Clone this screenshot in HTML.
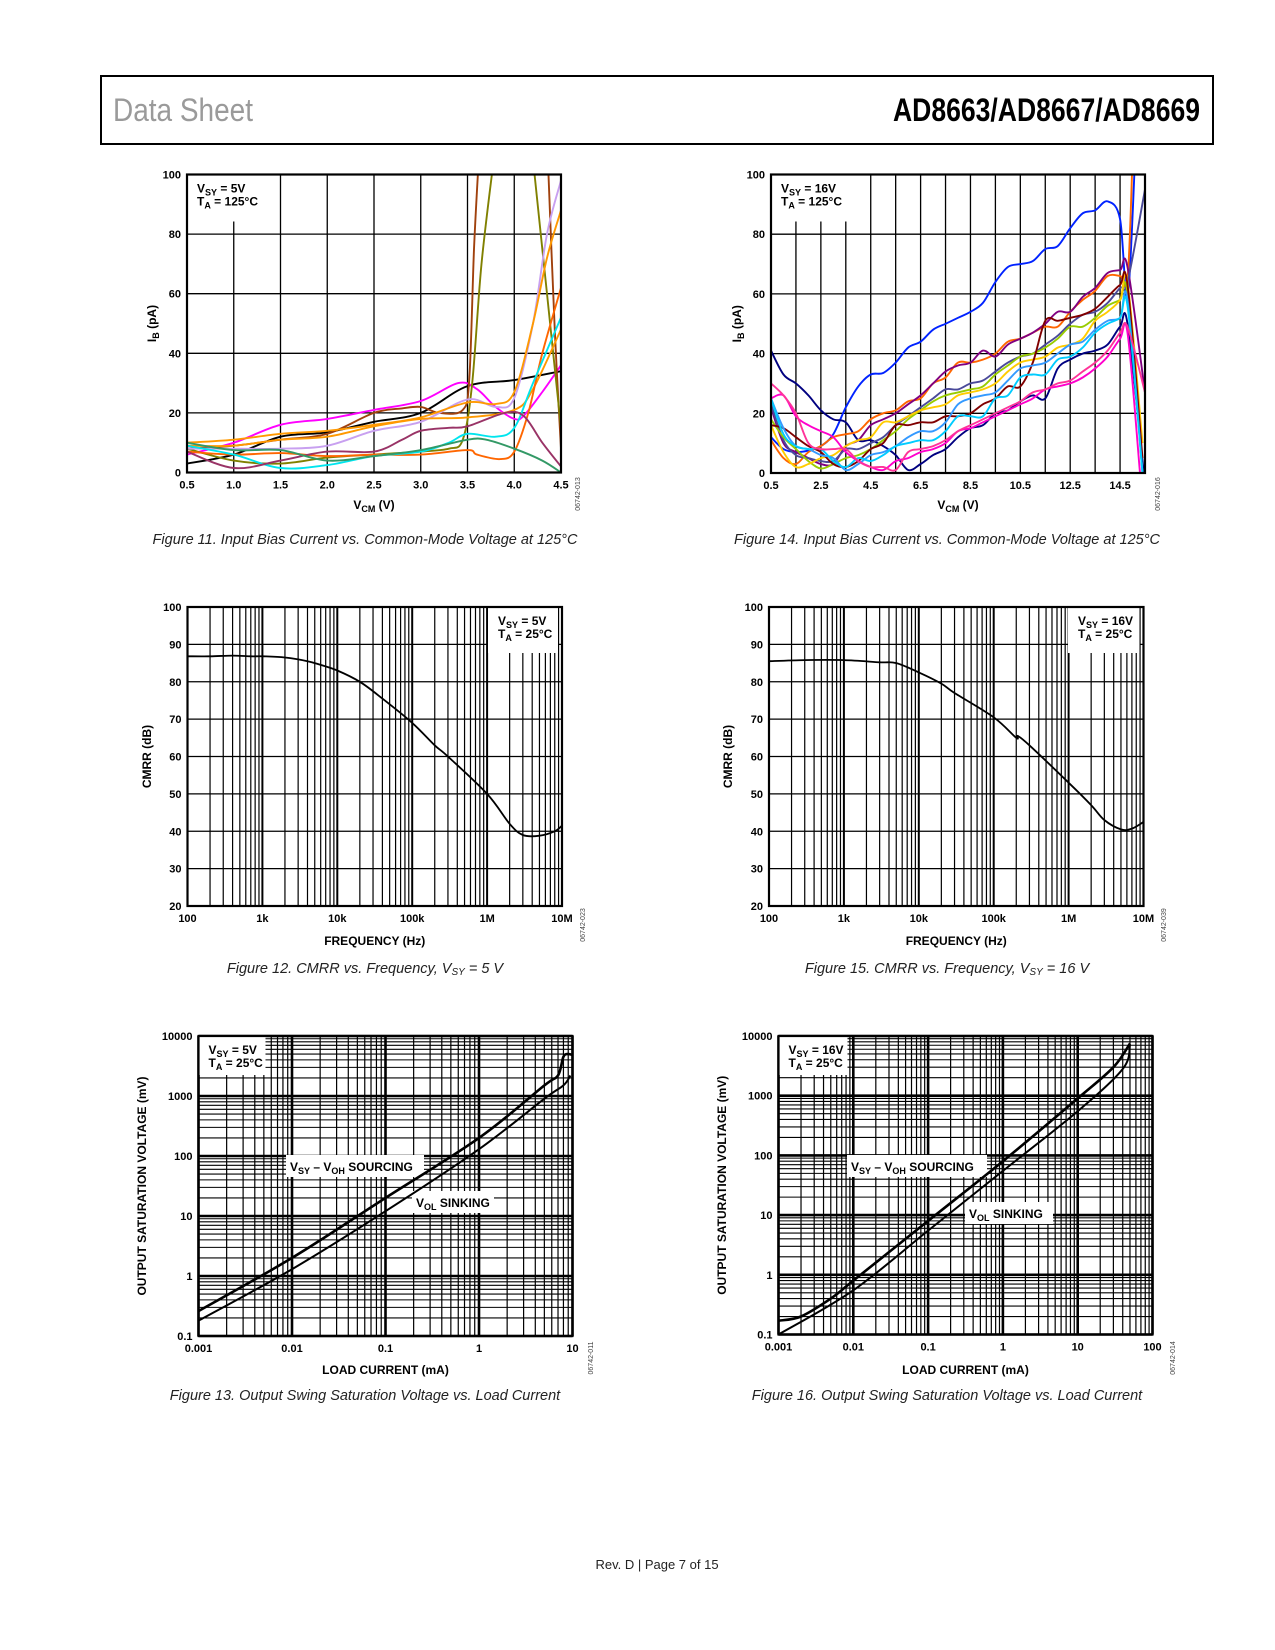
<!DOCTYPE html>
<html><head><meta charset="utf-8">
<style>
html,body{margin:0;padding:0;background:#fff;}
svg{display:block;font-family:"Liberation Sans",sans-serif;}
.tk{font-size:11px;font-weight:bold;fill:#000;}
.tt{font-size:12px;font-weight:bold;fill:#000;}
.cap{font-size:14.5px;font-style:italic;fill:#222;}
.wm{font-size:7px;fill:#444;}
</style></head>
<body>
<svg id="page" width="1275" height="1650" viewBox="0 0 1275 1650" xmlns="http://www.w3.org/2000/svg">
<rect x="101" y="76" width="1112" height="68" fill="none" stroke="#000" stroke-width="2"/>
<text x="113" y="121" font-size="32" fill="#9a9a9a" textLength="140" lengthAdjust="spacingAndGlyphs">Data Sheet</text>
<text x="1200" y="121" font-size="32" font-weight="bold" text-anchor="end" textLength="307" lengthAdjust="spacingAndGlyphs">AD8663/AD8667/AD8669</text>
<text x="657" y="1569" font-size="13" text-anchor="middle" fill="#222">Rev. D | Page 7 of 15</text>
<text class="cap" x="365" y="544" text-anchor="middle">Figure 11. Input Bias Current vs. Common-Mode Voltage at 125°C</text>
<text class="cap" x="947" y="544" text-anchor="middle">Figure 14. Input Bias Current vs. Common-Mode Voltage at 125°C</text>
<text class="cap" x="365" y="973" text-anchor="middle">Figure 12. CMRR vs. Frequency, V<tspan font-size="10" dy="2">SY</tspan><tspan dy="-2"> = 5 V</tspan></text>
<text class="cap" x="947" y="973" text-anchor="middle">Figure 15. CMRR vs. Frequency, V<tspan font-size="10" dy="2">SY</tspan><tspan dy="-2"> = 16 V</tspan></text>
<text class="cap" x="365" y="1400" text-anchor="middle">Figure 13. Output Swing Saturation Voltage vs. Load Current</text>
<text class="cap" x="947" y="1400" text-anchor="middle">Figure 16. Output Swing Saturation Voltage vs. Load Current</text>
</svg>
<script>
// ---------- Figure 11 data (VSY=5V, 125C) ----------
const f11Colors = ['#000000','#ff00ff','#a0410d','#a0410d','#808000','#808000','#c8a0f0','#ff9900','#ff9900','#ff6600','#00e5ee','#993366','#339966'];
const f11_black_x = [0.5,1.0,1.5,2.0,2.5,3.0,3.5,4.0,4.5];
const f11_black_y = [3,6,12,13.5,17,20,29,31,34];
const f11_magenta_x = [0.5,1.0,1.5,2.0,2.5,3.0,3.4,3.6,3.8,4.0,4.1,4.3,4.5];
const f11_magenta_y = [6,10,16,18,21,24,30,28,22,18,19,27,36];
const f11_brown_x = [0.5,1.0,1.5,2.0,2.5,2.8,3.0,3.2,3.45,3.52,3.57,3.62];
const f11_brown_y = [8,9,11,13,20,21.5,22,20,21,32,75,105];
const f11_brown2_x = [4.36,4.43,4.5];
const f11_brown2_y = [105,50,8];
const f11_olive_x = [0.5,1.0,1.5,2.0,2.5,3.0,3.3,3.45,3.55,3.65,3.78];
const f11_olive_y = [8,4,3,5,6,7,8,11,30,70,105];
const f11_olive2_x = [4.2,4.35,4.5];
const f11_olive2_y = [105,60,15];
const f11_lav_x = [0.5,1.0,1.5,2.0,2.5,3.0,3.5,3.8,4.0,4.2,4.35,4.5];
const f11_lav_y = [8,8,8,9,14,17,24.5,22,25,50,80,98];
const f11_orange_x = [0.5,1.0,1.5,2.0,2.5,3.0,3.5,3.8,4.0,4.2,4.35,4.5];
const f11_orange_y = [10,11,13,14,16,18.5,23.5,23,27,50,72,88];
const f11_orange2_x = [0.5,1.0,1.5,2.0,2.5,3.0,3.5,4.0,4.2,4.5];
const f11_orange2_y = [9,9,11,12,15.5,18,18.5,21,28,48];
const f11_dorange_x = [0.5,1.0,1.5,2.0,2.5,3.0,3.5,3.6,3.85,4.0,4.15,4.3,4.5];
const f11_dorange_y = [7,6,6.5,5.5,6,6,7.5,6,4.5,7,20,40,62];
const f11_cyan_x = [0.5,1.0,1.5,2.0,2.5,3.0,3.3,3.5,3.8,4.0,4.2,4.5];
const f11_cyan_y = [9,6,1.5,2.5,5.5,7,10,13,12,15,30,52];
const f11_plum_x = [0.5,1.0,1.5,2.0,2.5,2.8,3.0,3.3,3.5,3.9,4.1,4.3,4.5];
const f11_plum_y = [7,1.5,4,7,7,11,14,15,15.5,20,19,10,2];
const f11_teal_x = [0.5,1.0,1.5,2.0,2.5,3.0,3.5,3.7,4.0,4.3,4.5];
const f11_teal_y = [10,7.5,7.5,4,5.5,7.5,11,11,8,4,0];
const f11XS = [f11_black_x,f11_magenta_x,f11_brown_x,f11_brown2_x,f11_olive_x,f11_olive2_x,f11_lav_x,f11_orange_x,f11_orange2_x,f11_dorange_x,f11_cyan_x,f11_plum_x,f11_teal_x];
const f11YS = [f11_black_y,f11_magenta_y,f11_brown_y,f11_brown2_y,f11_olive_y,f11_olive2_y,f11_lav_y,f11_orange_y,f11_orange2_y,f11_dorange_y,f11_cyan_y,f11_plum_y,f11_teal_y];
const f11XTicks = [0.5,1.0,1.5,2.0,2.5,3.0,3.5,4.0,4.5];
const ibYTicks = [0,20,40,60,80,100];

// ---------- Figure 14 data (VSY=16V, 125C) ----------
const f14X = [0.5,1,1.5,2,2.5,3,3.5,4,4.5,5,5.5,6,6.5,7,7.5,8,8.5,9,9.5,10,10.5,11,11.5,12,12.5,13,13.5,14,14.5,14.8];
const f14Colors = ['#0022ff','#000080','#ff6600','#800080','#4a4a9a','#99cc00','#ffcc00','#800000','#3399ff','#00ccff','#ff00cc','#ff3399'];
const f14_blue = [12,8,7,7.5,9,13,22,29,33,33.5,37,42,44,48,50,52,54,57,64,69,70,71,75,76,82,87,88,91,85,58];
const f14_navy = [41,33,30,26,21,18,17,11,11,9,6,1,3,6,8,12,15,16,20,21,24,26,25,35,38,40,41,43,49,50];
const f14_orange = [11,5,3,7,9,12,13,14,18,20,21,24,25,30,32,37,37,38,40,44,45,47,49,49,54,58,61,66,66,65];
const f14_purple = [22,10,7,5,3,3,9,11,16,18,20,23,26,30,34,36,37,41,39,43,45,47,50,54,54,59,62,67,68,69];
const f14_slate = [23,11,6,5,4,4,8,8,10,12,16,19,22,25,28,28,30,31,34,37,39,40,43,46,50,53,54,57,62,64];
const f14_green = [18,12,8,4,1.5,3,5,6,8,11,14,18,21,24,26,27,28,29,33,36,39,40,42,45,49,49,52,56,58,60];
const f14_yellow = [16,7,2,3,5,6,9,11,12,17,17,19,21,22,23,26,27,28,30,34,37,38,39,42,43,45,51,54,58,64];
const f14_maroon = [16,15,12,9,7,3,2,4,8,10,16,16,17,17,19,19,20,23,25,29,29,37,51,51,52,53,55,59,63,63];
const f14_cornflower = [25,15,9,8,6,5,1,3,6,7,9,12,14,14,17,23,25,26,27,31,35,36,37,40,43,44,48,51,52,58];
const f14_cyan = [25,13,9,8,8,4,2,5,4,6,9,10,11,11,14,19,19,19,25,26,32,33,33,38,39,42,47,50,52,56];
const f14_magenta = [25,26,19,16,14,12,7,4,2,1,4,5,7,8,10,14,15,17,19,21,23,25,28,29,30,32,35,39,45,47];
const f14_pink = [30,26,20,10,8,8,8,4,2,2,1,7,8,9,11,14,16,18,20,22,24,27,28,30,31,34,37,41,47,49];
const f14YS = [f14_blue,f14_navy,f14_orange,f14_purple,f14_slate,f14_green,f14_yellow,f14_maroon,f14_cornflower,f14_cyan,f14_magenta,f14_pink];
const f14EndX = [15.1,15.45,15.0,15.5,15.5,15.4,15.4,15.4,15.4,15.4,15.3,15.5];
const f14EndY = [105,0,105,27,95,0,10,5,0,0,0,27];
const f14XTicks = [0.5,2.5,4.5,6.5,8.5,10.5,12.5,14.5];

// ---------- Figure 12 / 15 data (CMRR) ----------
const f12Freq = [100,200,400,700,1000,2000,4000,6000,10000,20000,40000,100000,200000,300000,1000000,2000000,3000000,5000000,8000000,10000000];
const f12Cmrr = [86.8,86.8,87,86.8,86.8,86.5,85.5,84.5,83,80,75.5,69,63,60,50,42,39,38.8,40,41.5];
const f15Freq = [100,300,1000,3000,5000,10000,20000,30000,100000,200000,210000,300000,1000000,2000000,3000000,5000000,7000000,10000000];
const f15Cmrr = [85.5,85.8,85.8,85.2,85,82.5,79.5,77,70.5,65,65.5,63,53,47,43,40.5,40.7,42.5];
const cmrrXTicks = [100,1000,10000,100000,1000000,10000000];
const cmrrXLabels = ['100','1k','10k','100k','1M','10M'];
const cmrrYTicks = [20,30,40,50,60,70,80,90,100];

// ---------- Figure 13 / 16 data (saturation) ----------
const f13SrcI = [0.001,0.01,0.1,1,5,7,8,9,10];
const f13SrcV = [0.26,2,20,200,1500,2200,4500,5000,4800];
const f13SnkI = [0.001,0.01,0.1,1,5,8,9.5];
const f13SnkV = [0.18,1.3,12,130,900,1500,2200];
const f16SrcI = [0.001,0.002,0.005,0.01,0.1,1,10,30,50];
const f16SrcV = [0.17,0.2,0.4,0.8,8,80,900,3000,7500];
const f16SnkI = [0.001,0.01,0.1,1,10,40,50];
const f16SnkV = [0.1,0.55,5.5,55,550,2800,7000];
const f13XTicks = [0.001,0.01,0.1,1,10];
const f13XLabels = ['0.001','0.01','0.1','1','10'];
const f16XTicks = [0.001,0.01,0.1,1,10,100];
const f16XLabels = ['0.001','0.01','0.1','1','10','100'];
const satYTicks = [0.1,1,10,100,1000,10000];
const satYLabels = ['0.1','1','10','100','1000','10000'];

const NS = 'http://www.w3.org/2000/svg';
const page = document.getElementById('page');
function mk(tag, attrs, parent){
  const e = document.createElementNS(NS, tag);
  for (const k in attrs) e.setAttribute(k, attrs[k]);
  (parent || page).appendChild(e);
  return e;
}
function lin(d0,d1,r0,r1){ return v => r0 + (v-d0)/(d1-d0)*(r1-r0); }
function lg(d0,d1,r0,r1){ const a=Math.log10(d0), b=Math.log10(d1); return v => r0 + (Math.log10(v)-a)/(b-a)*(r1-r0); }
function smooth(p){
  let d = 'M' + p[0][0].toFixed(1) + ',' + p[0][1].toFixed(1);
  for (let i=0;i<p.length-1;i++){
    const p0=p[i-1]||p[i], p1=p[i], p2=p[i+1], p3=p[i+2]||p[i+1];
    const c1x=p1[0]+(p2[0]-p0[0])/6, c1y=p1[1]+(p2[1]-p0[1])/6;
    const c2x=p2[0]-(p3[0]-p1[0])/6, c2y=p2[1]-(p3[1]-p1[1])/6;
    d += ' C'+c1x.toFixed(1)+','+c1y.toFixed(1)+' '+c2x.toFixed(1)+','+c2y.toFixed(1)+' '+p2[0].toFixed(1)+','+p2[1].toFixed(1);
  }
  return d;
}
let clipN = 0;
function chart(c){
  const g = mk('g', {});
  
  
  const id = 'clip' + (clipN++);
  const cp = mk('clipPath', {id:id}, g);
  mk('rect', {x:c.L, y:c.T, width:c.R-c.L, height:c.B-c.T}, cp);
  const grid = mk('g', {}, g);
  
  
  c.vGrid.forEach(v => {
    const ln = mk('line', {x1:c.x(v[0]), x2:c.x(v[0]), y1:c.T, y2:c.B, stroke:'#000', 'stroke-width':v[1]}, grid);
    
    
  });
  c.hGrid.forEach(v => {
    const ln = mk('line', {x1:c.L, x2:c.R, y1:c.y(v[0]), y2:c.y(v[0]), stroke:'#000', 'stroke-width':v[1]}, grid);
    
    
  });
  // legend box
  const lb = mk('rect', {x:c.L+1, y:c.T+1, width:c.leg[2], height:c.leg[3], fill:'#fff'}, g);
  if (c.leg[0] !== null) { lb.setAttribute('x', c.leg[0]); }
  
  
  const lx = (c.leg[0] !== null ? c.leg[0] : c.L) + 10;
  const t1 = mk('text', {x:lx, y:c.T+18, class:'tt'}, g);
  
  
  t1.innerHTML = 'V<tspan font-size="9" dy="3">SY</tspan><tspan dy="-3"> = ' + c.vsy + '</tspan>';
  const t2 = mk('text', {x:lx, y:c.T+31, class:'tt'}, g);
  
  
  t2.innerHTML = 'T<tspan font-size="9" dy="3">A</tspan><tspan dy="-3"> = ' + c.ta + '°C</tspan>';
  // extra label boxes
  (c.labels || []).forEach(l => {
    const r = mk('rect', {x:l.x, y:l.y, width:l.w, height:l.h, fill:'#fff'}, g);
    
    
    const t = mk('text', {x:l.x+4, y:l.y+l.h-6, class:'tt'}, g);
    
    
    t.innerHTML = l.html;
  });
  // series
  const sg = mk('g', {'clip-path':'url(#'+id+')'}, g);
  
  
  c.series.forEach(s => {
    const pts = s.xs.map((v,i) => [c.x(v), c.y(s.ys[i])]);
    const p = mk('path', {d:smooth(pts), fill:'none', stroke:s.color, 'stroke-width':s.w, 'stroke-linejoin':'round'}, sg);
    
    
  });
  // frame
  const fr = mk('rect', {x:c.L, y:c.T, width:c.R-c.L, height:c.B-c.T, fill:'none', stroke:'#000', 'stroke-width':2.2}, g);
  
  
  // ticks
  c.xTicks.forEach((v,i) => {
    const t = mk('text', {x:c.x(v), y:c.B+c.xLabOff, class:'tk', 'text-anchor':'middle'}, g);
    
    
    t.textContent = c.xLabels[i];
  });
  c.yTicks.forEach((v,i) => {
    const t = mk('text', {x:c.L-6, y:c.y(v)+4, class:'tk', 'text-anchor':'end'}, g);
    
    
    t.textContent = c.yLabels[i];
  });
  const xt = mk('text', {x:(c.L+c.R)/2, y:c.xTitleY, class:'tt', 'text-anchor':'middle'}, g);
  
  
  xt.innerHTML = c.xTitle;
  const yt = mk('text', {x:0, y:0, class:'tt', 'text-anchor':'middle', transform:'translate('+c.yTitleX+','+((c.T+c.B)/2)+') rotate(-90)'}, g);
  
  
  yt.innerHTML = c.yTitle;
  const wm = mk('text', {x:0, y:0, class:'wm', 'text-anchor':'middle', transform:'translate('+c.wm[0]+','+c.wm[1]+') rotate(-90)'}, g);
  
  
  wm.textContent = c.wm[2];
}
function logGrid(d0, d1, majorW, minorW){
  const out = [];
  for (let e = Math.round(Math.log10(d0)); e < Math.round(Math.log10(d1)); e++){
    for (let k=1;k<=9;k++) out.push([k*Math.pow(10,e), k===1?majorW:minorW]);
  }
  out.push([d1, majorW]);
  return out;
}

// Figure 11
(function(){
  const c = {name:'figure-11-chart', L:187, R:561, T:174.5, B:472.5};
  c.x = lin(0.5,4.5,c.L,c.R); c.y = lin(0,100,c.B,c.T);
  c.vGrid = f11XTicks.map(v=>[v,1.3]); c.hGrid = ibYTicks.map(v=>[v,1.3]);
  c.leg = [null,null,73,46]; c.vsy='5V'; c.ta='125';
  c.series = f11XS.map((xs,i)=>({xs:xs, ys:f11YS[i], color:f11Colors[i], w:1.9, name:'ib-curve-'+(i+1)}));
  c.xTicks = f11XTicks; c.xLabels = f11XTicks.map(v=>v.toFixed(1)); c.xLabOff = 16;
  c.yTicks = ibYTicks; c.yLabels = ibYTicks.map(String);
  c.xTitle = 'V<tspan font-size="9" dy="3">CM</tspan><tspan dy="-3"> (V)</tspan>'; c.xTitleY = 509;
  c.yTitle = 'I<tspan font-size="9" dy="3">B</tspan><tspan dy="-3"> (pA)</tspan>'; c.yTitleX = 156;
  c.wm = [580,494,'06742-013'];
  chart(c);
})();
// Figure 14
(function(){
  const c = {name:'figure-14-chart', L:771, R:1145, T:174.5, B:473};
  c.x = lin(0.5,15.5,c.L,c.R); c.y = lin(0,100,c.B,c.T);
  const vg = []; for (let v=1.5; v<15.5; v+=1) vg.push([v,1.3]);
  c.vGrid = vg; c.hGrid = ibYTicks.map(v=>[v,1.3]);
  c.leg = [null,null,76,46]; c.vsy='16V'; c.ta='125';
  c.series = f14YS.map((ys,i)=>({xs:f14X.concat([f14EndX[i]]), ys:ys.concat([f14EndY[i]]), color:f14Colors[i], w:1.9, name:'ib-curve-'+(i+1)}));
  c.xTicks = f14XTicks; c.xLabels = f14XTicks.map(v=>v.toFixed(1)); c.xLabOff = 16;
  c.yTicks = ibYTicks; c.yLabels = ibYTicks.map(String);
  c.xTitle = 'V<tspan font-size="9" dy="3">CM</tspan><tspan dy="-3"> (V)</tspan>'; c.xTitleY = 509;
  c.yTitle = 'I<tspan font-size="9" dy="3">B</tspan><tspan dy="-3"> (pA)</tspan>'; c.yTitleX = 741;
  c.wm = [1160,494,'06742-016'];
  chart(c);
})();
// Figure 12 & 15
[[187.5,562,'figure-12-chart','5V',f12Freq,f12Cmrr,151,[585,925,'06742-023'],488],
 [769,1143.5,'figure-15-chart','16V',f15Freq,f15Cmrr,732,[1166,925,'06742-039'],1068]].forEach(a=>{
  const c = {name:a[2], L:a[0], R:a[1], T:607, B:906};
  c.x = lg(100,1e7,c.L,c.R); c.y = lin(20,100,c.B,c.T);
  c.vGrid = logGrid(100,1e7,2,1.2); c.hGrid = cmrrYTicks.map(v=>[v,1.3]);
  c.leg = [a[8],null,c.R-a[8]-4,45]; c.vsy=a[3]; c.ta='25';
  c.series = [{xs:a[4], ys:a[5], color:'#000', w:1.8, name:'cmrr-curve'}];
  c.xTicks = cmrrXTicks; c.xLabels = cmrrXLabels; c.xLabOff = 16;
  c.yTicks = cmrrYTicks; c.yLabels = cmrrYTicks.map(String);
  c.xTitle = 'FREQUENCY (Hz)'; c.xTitleY = 945;
  c.yTitle = 'CMRR (dB)'; c.yTitleX = a[6];
  c.wm = a[7];
  chart(c);
});
// Figure 13
(function(){
  const c = {name:'figure-13-chart', L:198.5, R:572.5, T:1036, B:1336};
  c.x = lg(0.001,10,c.L,c.R); c.y = lg(0.1,10000,c.B,c.T);
  c.vGrid = logGrid(0.001,10,2.6,1.2); c.hGrid = logGrid(0.1,10000,2.6,1.1);
  c.leg = [null,null,66,38]; c.vsy='5V'; c.ta='25';
  c.labels = [
    {name:'sourcing-label', x:286, y:1155, w:138, h:22, html:'V<tspan font-size="9" dy="3">SY</tspan><tspan dy="-3"> – V</tspan><tspan font-size="9" dy="3">OH</tspan><tspan dy="-3"> SOURCING</tspan>'},
    {name:'sinking-label', x:412, y:1191, w:82, h:22, html:'V<tspan font-size="9" dy="3">OL</tspan><tspan dy="-3"> SINKING</tspan>'}];
  c.series = [{xs:f13SrcI, ys:f13SrcV, color:'#000', w:2.6, name:'sourcing-curve'},
              {xs:f13SnkI, ys:f13SnkV, color:'#000', w:2, name:'sinking-curve'}];
  c.xTicks = f13XTicks; c.xLabels = f13XLabels; c.xLabOff = 16;
  c.yTicks = satYTicks; c.yLabels = satYLabels;
  c.xTitle = 'LOAD CURRENT (mA)'; c.xTitleY = 1374;
  c.yTitle = 'OUTPUT SATURATION VOLTAGE (mV)'; c.yTitleX = 146;
  c.wm = [593,1358,'06742-011'];
  chart(c);
})();
// Figure 16
(function(){
  const c = {name:'figure-16-chart', L:778.5, R:1152.5, T:1036, B:1334.5};
  c.x = lg(0.001,100,c.L,c.R); c.y = lg(0.1,10000,c.B,c.T);
  c.vGrid = logGrid(0.001,100,2.6,1.2); c.hGrid = logGrid(0.1,10000,2.6,1.1);
  c.leg = [null,null,68,38]; c.vsy='16V'; c.ta='25';
  c.labels = [
    {name:'sourcing-label', x:847, y:1155, w:140, h:22, html:'V<tspan font-size="9" dy="3">SY</tspan><tspan dy="-3"> – V</tspan><tspan font-size="9" dy="3">OH</tspan><tspan dy="-3"> SOURCING</tspan>'},
    {name:'sinking-label', x:965, y:1202, w:88, h:22, html:'V<tspan font-size="9" dy="3">OL</tspan><tspan dy="-3"> SINKING</tspan>'}];
  c.series = [{xs:f16SrcI, ys:f16SrcV, color:'#000', w:2.6, name:'sourcing-curve'},
              {xs:f16SnkI, ys:f16SnkV, color:'#000', w:2, name:'sinking-curve'}];
  c.xTicks = f16XTicks; c.xLabels = f16XLabels; c.xLabOff = 16;
  c.yTicks = satYTicks; c.yLabels = satYLabels;
  c.xTitle = 'LOAD CURRENT (mA)'; c.xTitleY = 1374;
  c.yTitle = 'OUTPUT SATURATION VOLTAGE (mV)'; c.yTitleX = 726;
  c.wm = [1175,1358,'06742-014'];
  chart(c);
})();
</script>
</body></html>
